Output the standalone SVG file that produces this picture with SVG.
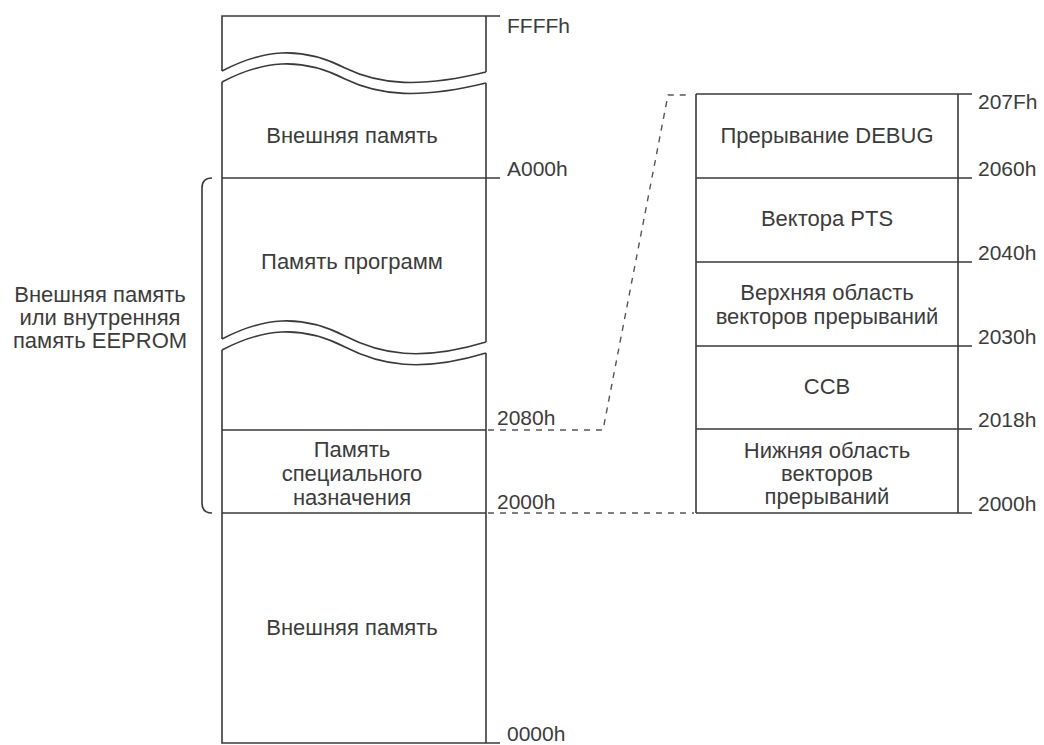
<svg xmlns="http://www.w3.org/2000/svg" width="1044" height="745" viewBox="0 0 1044 745">
  <style>
    .ln { fill: none; stroke: #3a3a3a; stroke-width: 1.6; }
    .dash { fill: none; stroke: #555; stroke-width: 1.4; stroke-dasharray: 6 6; }
    text { font-family: "Liberation Sans", Arial, sans-serif; font-size: 22px; fill: #3c3c3c; }
    .addr { font-size: 21px; }
    .c { text-anchor: middle; }
  </style>
  <rect width="1044" height="745" fill="#fff"/>

  <!-- Full address space column -->
  <g id="map-main">
    <!-- top fragment above the break -->
    <path class="ln" d="M222,71 L222,16 L500,16 M486,16 L486,72"/>
    <path class="ln" d="M222,71 C262,50 300,45 345,68 C380,85 420,88 486,72"/>
    <path class="ln" d="M222,82 C262,61 300,56 345,79 C380,96 420,99 486,83"/>
    <!-- middle fragment between the breaks -->
    <path class="ln" d="M222,82 L222,339 M486,83 L486,342"/>
    <path class="ln" d="M222,178 L500,178"/>
    <path class="ln" d="M222,339 C262,318 300,313 345,336 C380,354 420,362 486,342"/>
    <path class="ln" d="M222,350 C262,329 300,324 345,347 C380,365 420,373 486,353"/>
    <!-- lower fragment -->
    <path class="ln" d="M222,350 L222,743 L500,743 M486,353 L486,743"/>
    <path class="ln" d="M222,430 L486,430 M222,513 L486,513"/>
  </g>

  <g id="main-labels">
    <text class="addr" x="507" y="33">FFFFh</text>
    <text class="addr" x="507" y="176">A000h</text>
    <text class="addr" x="497" y="425">2080h</text>
    <text class="addr" x="497" y="509">2000h</text>
    <text class="addr" x="507" y="741">0000h</text>
  </g>

  <g id="seg-ext-high">
    <text class="c" x="352" y="143">Внешняя память</text>
  </g>
  <g id="seg-program">
    <text class="c" x="352" y="269">Память программ</text>
  </g>
  <g id="seg-special">
    <text class="c" x="352" y="457">Память</text>
    <text class="c" x="352" y="481">специального</text>
    <text class="c" x="352" y="505">назначения</text>
  </g>
  <g id="seg-ext-low">
    <text class="c" x="352" y="635">Внешняя память</text>
  </g>

  <!-- Bracket with its caption -->
  <g id="bracket">
    <path class="ln" d="M212,178 Q202,178 202,188 L202,503 Q202,513 212,513"/>
    <text class="c" x="100" y="302">Внешняя память</text>
    <text class="c" x="100" y="325">или внутренняя</text>
    <text class="c" x="100" y="348">память EEPROM</text>
  </g>

  <!-- Detail of the special purpose area -->
  <g id="map-detail">
    <path class="ln" d="M696,94 L972,94 M696,94 L696,513 M958,94 L958,513"/>
    <path class="ln" d="M696,178 L972,178 M696,262 L972,262 M696,346 L972,346 M696,429 L972,429 M696,513 L972,513"/>
  </g>
  <g id="detail-labels">
    <text class="addr" x="978" y="109">207Fh</text>
    <text class="addr" x="978" y="176">2060h</text>
    <text class="addr" x="978" y="260">2040h</text>
    <text class="addr" x="978" y="344">2030h</text>
    <text class="addr" x="978" y="427">2018h</text>
    <text class="addr" x="978" y="511">2000h</text>
  </g>
  <g id="det-debug">
    <text class="c" x="827" y="143">Прерывание DEBUG</text>
  </g>
  <g id="det-pts">
    <text class="c" x="827" y="226">Вектора PTS</text>
  </g>
  <g id="det-upper">
    <text class="c" x="827" y="300">Верхняя область</text>
    <text class="c" x="827" y="324">векторов прерываний</text>
  </g>
  <g id="det-ccb">
    <text class="c" x="827" y="394">CCB</text>
  </g>
  <g id="det-lower">
    <text class="c" x="827" y="458">Нижняя область</text>
    <text class="c" x="827" y="481">векторов</text>
    <text class="c" x="827" y="504">прерываний</text>
  </g>

  <!-- Dashed projection lines -->
  <g id="connectors">
    <path class="dash" d="M488,430 L603,430 L668,95 L688,95"/>
    <path class="dash" d="M488,513 L694,513"/>
  </g>
</svg>
